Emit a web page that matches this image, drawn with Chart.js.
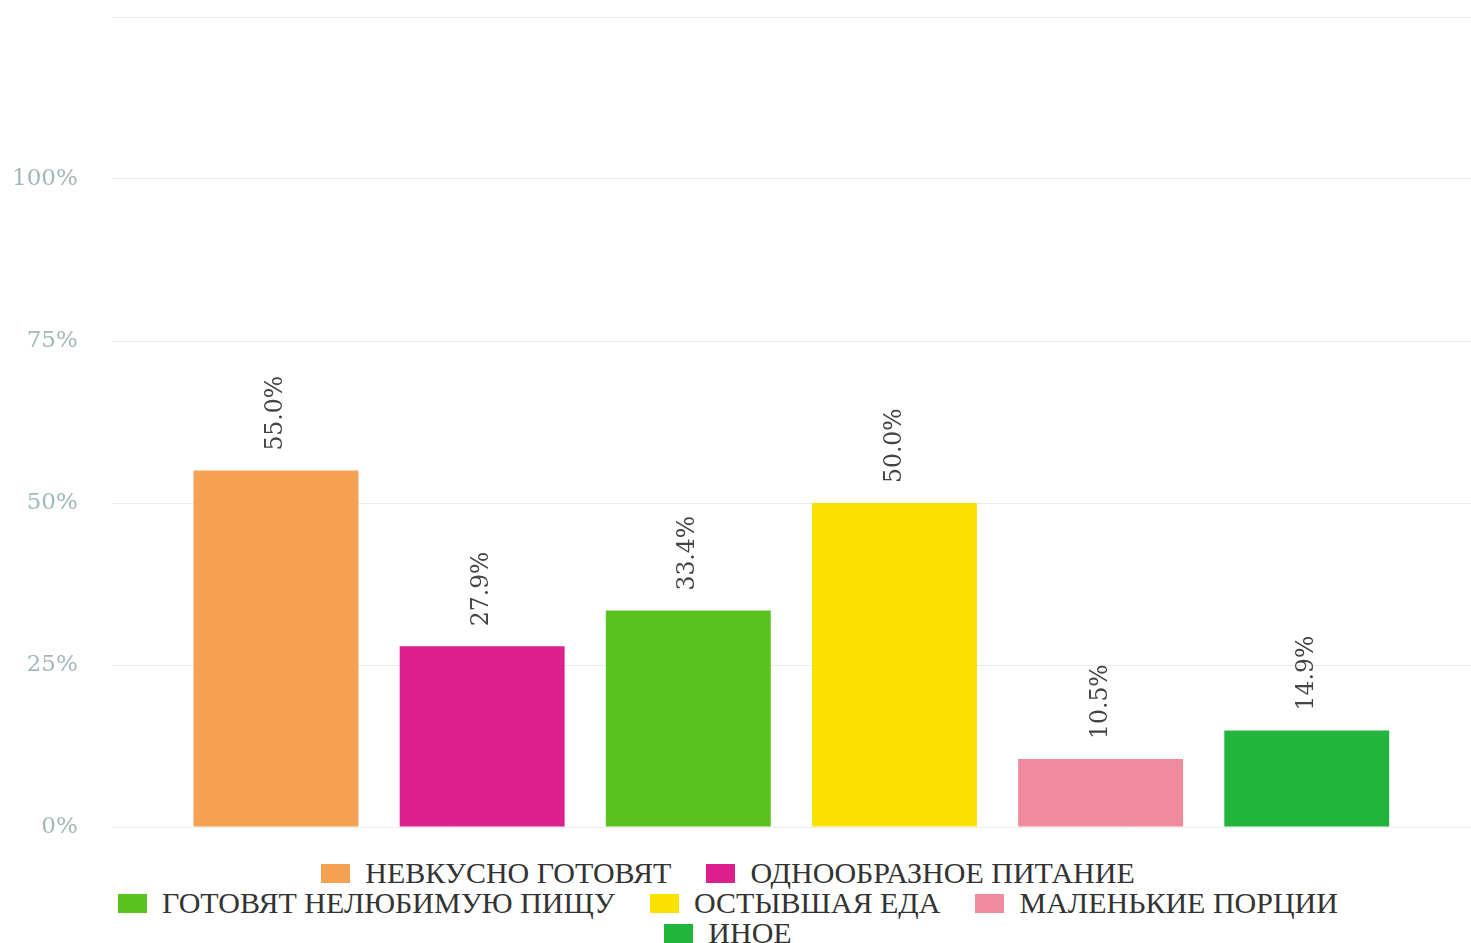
<!DOCTYPE html>
<html lang="ru">
<head>
    <meta charset="UTF-8">
    <title>Причины</title>
    <script src="https://cdn.jsdelivr.net/npm/chart.js"></script>
    <style>
        html, body {
            margin: 0;
            padding: 0;
            background: #fff;
            overflow: hidden;
        }
        #chart-box {
            position: relative;
            width: 1471px;
            height: 858px;
        }
        #legend {
            width: 1290px;
            margin-left: 83px;
            display: flex;
            flex-wrap: wrap;
            justify-content: center;
            column-gap: 35px;
            font-family: "Liberation Serif", serif;
            font-size: 30px;
            line-height: 30px;
            color: #333;
        }
        .legend-item {
            display: flex;
            align-items: center;
            white-space: nowrap;
        }
        .legend-box {
            display: inline-block;
            width: 29px;
            height: 19px;
            margin-right: 15px;
        }
    </style>
</head>
<body>
    <div id="chart-box">
        <canvas id="bars"></canvas>
    </div>
    <div id="legend"></div>

    <script>
        const categories = [''];
        const seriesNames = [
            'НЕВКУСНО ГОТОВЯТ',
            'ОДНООБРАЗНОЕ ПИТАНИЕ',
            'ГОТОВЯТ НЕЛЮБИМУЮ ПИЩУ',
            'ОСТЫВШАЯ ЕДА',
            'МАЛЕНЬКИЕ ПОРЦИИ',
            'ИНОЕ'
        ];
        const seriesValues = [55.0, 27.9, 33.4, 50.0, 10.5, 14.9];
        const seriesColors = ['#f5a152', '#dd1f8d', '#5ac21e', '#fae100', '#ef8b9c', '#22b43c'];
        const yMax = 125;
        const yStep = 25;

        // value labels turned on their side above each bar
        const barLabels = {
            id: 'barLabels',
            afterDatasetsDraw(chart) {
                const ctx = chart.ctx;
                ctx.save();
                ctx.font = '23.5px "DejaVu Serif", serif';
                ctx.fillStyle = '#444';
                ctx.textAlign = 'left';
                ctx.textBaseline = 'middle';
                chart.data.datasets.forEach((ds, i) => {
                    chart.getDatasetMeta(i).data.forEach((bar, j) => {
                        ctx.save();
                        ctx.translate(bar.x, bar.y - 20);
                        ctx.rotate(-Math.PI / 2);
                        ctx.fillText(ds.data[j].toFixed(1) + '%', 0, 0);
                        ctx.restore();
                    });
                });
                ctx.restore();
            }
        };

        const chart = new Chart(document.getElementById('bars'), {
            type: 'bar',
            data: {
                labels: categories,
                datasets: seriesNames.map((name, i) => ({
                    label: name,
                    data: [seriesValues[i]],
                    backgroundColor: seriesColors[i],
                    categoryPercentage: 0.91,
                    barPercentage: 0.8
                }))
            },
            options: {
                responsive: true,
                maintainAspectRatio: false,
                animation: false,
                layout: { padding: { top: 17, left: -22, right: -9, bottom: 31 } },
                plugins: {
                    legend: { display: false },
                    tooltip: { enabled: false }
                },
                scales: {
                    x: { display: false },
                    y: {
                        min: 0,
                        max: yMax,
                        border: { display: false },
                        grid: { color: '#ebebeb', drawTicks: false },
                        ticks: {
                            stepSize: yStep,
                            padding: 34,
                            color: '#a3b8b8',
                            font: { family: '"DejaVu Serif", serif', size: 23 },
                            callback: v => v === yMax ? '' : v + '%'
                        },
                        // tick padding would otherwise also push the plot down from the top
                        afterFit(scale) {
                            scale.paddingTop = 0;
                            scale.paddingBottom = 0;
                        }
                    }
                }
            },
            plugins: [barLabels]
        });

        const legend = document.getElementById('legend');
        seriesNames.forEach((name, i) => {
            const item = document.createElement('div');
            item.className = 'legend-item';
            item.innerHTML = `<span class="legend-box" style="background:${seriesColors[i]}"></span>${name}`;
            legend.appendChild(item);
        });
    </script>
</body>
</html>
